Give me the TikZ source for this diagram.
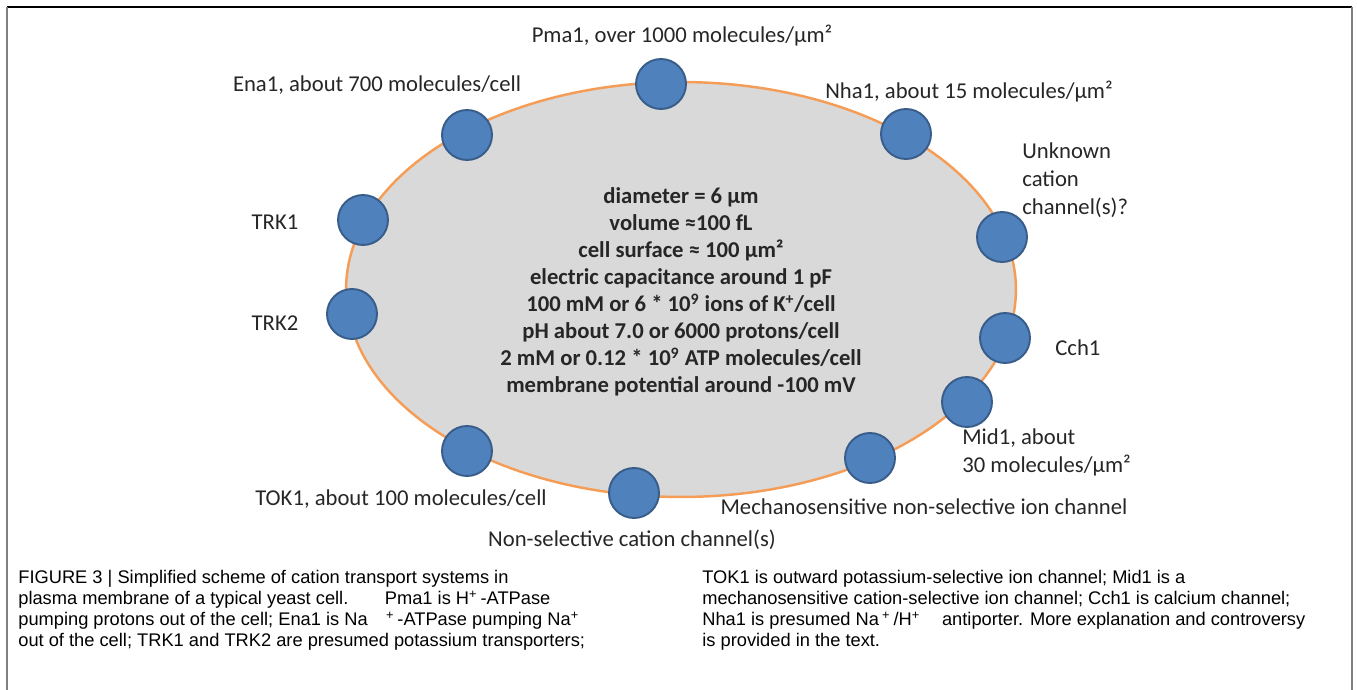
\documentclass[tikz,border=0pt]{standalone}
\usepackage{fontspec}
\setmainfont{Carlito}
\newfontfamily\captionfont{Liberation Sans}
\usetikzlibrary{positioning,shapes.geometric}
\definecolor{membrane}{HTML}{F59D56}
\definecolor{cytoplasm}{HTML}{D9D9D9}
\definecolor{porefill}{HTML}{4F81BD}
\definecolor{poreedge}{HTML}{385D8A}
\definecolor{labeltext}{HTML}{262626}

\begin{document}
\begin{tikzpicture}[x=0.02cm, y=-0.02cm,
                    cellnode/.style={ellipse, draw=membrane, line width=1.4pt, fill=cytoplasm, minimum width=13.4cm, minimum height=8.3cm},
                    porenode/.style={circle, draw=poreedge, line width=1.1pt, fill=porefill, minimum size=1.0cm, inner sep=0pt},
                    labelnode/.style={inner sep=0pt, text=labeltext, font=\fontsize{12.9}{15.9}\selectfont},
                    infonode/.style={inner sep=0pt, align=center, text=labeltext, font=\fontsize{12.9}{15.4}\selectfont\bfseries},
                    captionnode/.style={inner sep=0pt, anchor=north west, align=left, font=\captionfont\fontsize{10.4}{11.9}\selectfont}]
                    \useasboundingbox (0,0) rectangle (1357,690);
                    % frame of the figure
                    \draw[black, line width=0.8pt] (7,7) -- (1352,7);
                    \draw[gray, line width=1.4pt] (7,7) -- (7,690);
                    \draw[gray, line width=0.6pt] (1352,7) -- (1352,690);
                    % the cell
                    \node[cellnode] (cell) at (681,289.5) {};
                    \node[infonode] (info) at (681,292) {diameter = 6 μm\\
                        volume ≈100 fL\\
                        cell surface ≈ 100 μm²\\
                        electric capacitance around 1 pF\\
                        100 mM or 6 * 10\textsuperscript{9} ions of K\textsuperscript{+}/cell\\
                        pH about 7.0 or 6000 protons/cell\\
                        2 mM or 0.12 * 10\textsuperscript{9} ATP molecules/cell\\
                        membrane potential around -100 mV};
                    % transporters and channels
                    \node[porenode] (pma) at (661,84) {};
                    \node[porenode] (ena) at (467,135) {};
                    \node[porenode] (nha) at (906,134) {};
                    \node[porenode] (unknown) at (1002,237) {};
                    \node[porenode] (trk1) at (363,220) {};
                    \node[porenode] (trk2) at (352,314) {};
                    \node[porenode] (cch) at (1005,338) {};
                    \node[porenode] (mid) at (967,402) {};
                    \node[porenode] (mechano) at (870,458) {};
                    \node[porenode] (nonsel) at (634,493) {};
                    \node[porenode] (tok) at (467,451) {};
                    % labels
                    \node[labelnode] (pmalabel) at (682,36) {Pma1, over 1000 molecules/μm²};
                    \node[labelnode] (enalabel) at (377,85) {Ena1, about 700 molecules/cell};
                    \node[labelnode] (nhalabel) at (969,92) {Nha1, about 15 molecules/μm²};
                    \node[labelnode, anchor=west, align=left] (unknownlabel) at (1022,180) {Unknown\\cation\\channel(s)?};
                    \node[labelnode] (trk1label) at (275,222) {TRK1};
                    \node[labelnode] (trk2label) at (275,323) {TRK2};
                    \node[labelnode, anchor=west] (cchlabel) at (1055,348) {Cch1};
                    \node[labelnode, anchor=west, align=left] (midlabel) at (962,452) {Mid1, about\\30 molecules/μm²};
                    \node[labelnode] (mechanolabel) at (924,507) {Mechanosensitive non-selective ion channel};
                    \node[labelnode] (toklabel) at (401,499) {TOK1, about 100 molecules/cell};
                    \node[labelnode] (nonsellabel) at (632,540) {Non-selective cation channel(s)};
                    % caption
                    \node[captionnode] (captionleft) at (18,570) {FIGURE 3 | Simplified scheme of cation transport systems in\\
                        plasma membrane of a typical yeast cell.\hspace{2em}Pma1 is H\textsuperscript{+}\,-ATPase\\
                        pumping protons out of the cell; Ena1 is Na\hspace{1em}\textsuperscript{+}\,-ATPase pumping Na\textsuperscript{+}\\
                        out of the cell; TRK1 and TRK2 are presumed potassium transporters;};
                    \node[captionnode] (captionright) at (702,570) {TOK1 is outward potassium-selective ion channel; Mid1 is a\\
                        mechanosensitive cation-selective ion channel; Cch1 is calcium channel;\\
                        Nha1 is presumed Na\,\textsuperscript{+}\,/H\textsuperscript{+}\hspace{1.2em}antiporter. More explanation and controversy\\
                        is provided in the text.};
                \end{tikzpicture}
\end{document}
